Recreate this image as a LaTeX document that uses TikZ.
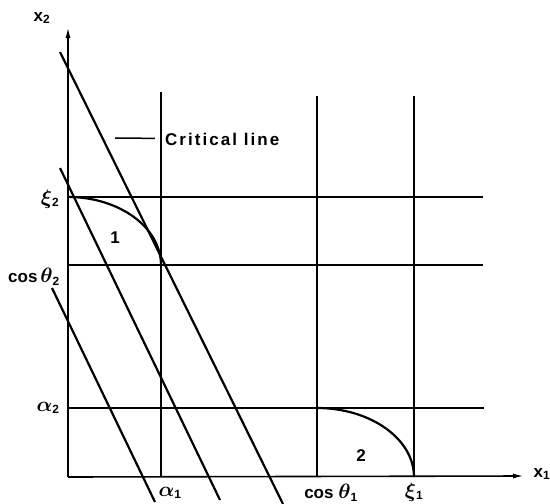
\documentclass[tikz,border=0pt]{standalone}
\usepackage{fontspec}
\usepackage{amsmath}
\usepackage{bm}
\setmainfont{Liberation Sans}
\usetikzlibrary{arrows.meta}
\newcommand{\gk}[1]{{\fontsize{22}{24}\selectfont$\bm{#1}$}}
\begin{document}
\begin{tikzpicture}[x=1pt,y=-1pt,
  gridline/.style={line width=1.3pt},
  diag/.style={line width=2.2pt},
  curveline/.style={line width=2.2pt},
  axisline/.style={line width=1.6pt,-{Latex[length=11pt,width=5pt]}},
  lab/.style={font=\fontsize{17}{19}\selectfont\bfseries, inner sep=0pt}]
\useasboundingbox (0,0) rectangle (550,504);
% axes
\coordinate (O) at (68,477);
\coordinate (Ytip) at (68,27);
\coordinate (Xtip) at (524,476);
\draw[axisline] (O) -- (Ytip);
\draw[axisline] (O) -- (Xtip);
% horizontal lines
\coordinate (xiTwoL) at (68,197);   \coordinate (xiTwoR) at (483,197);
\coordinate (cosTwoL) at (68,265);  \coordinate (cosTwoR) at (483,265);
\coordinate (alTwoL) at (68,408);   \coordinate (alTwoR) at (484,408);
\draw[gridline] (xiTwoL) -- (xiTwoR);
\draw[gridline] (cosTwoL) -- (cosTwoR);
\draw[gridline] (alTwoL) -- (alTwoR);
% vertical lines
\coordinate (alOneT) at (161,92);   \coordinate (alOneB) at (161,477);
\coordinate (cosOneT) at (317,96);  \coordinate (cosOneB) at (317,477);
\coordinate (xiOneT) at (414,96);   \coordinate (xiOneB) at (414,477);
\draw[gridline] (alOneT) -- (alOneB);
\draw[gridline] (cosOneT) -- (cosOneB);
\draw[gridline] (xiOneT) -- (xiOneB);
% curves
\draw[curveline] (xiTwoL) arc[start angle=-90, end angle=0, x radius=93, y radius=68];
\draw[curveline] (317,408) arc[start angle=-90, end angle=0, x radius=97, y radius=69];
% diagonal lines
\coordinate (dAt) at (60,52);   \coordinate (dAb) at (283,504);
\coordinate (dBt) at (60,168);  \coordinate (dBb) at (220,500);
\coordinate (dCt) at (52,288);  \coordinate (dCb) at (155,502);
\draw[diag] (dAt) -- (dAb);
\draw[diag] (dBt) -- (dBb);
\draw[diag] (dCt) -- (dCb);
% legend
\coordinate (legA) at (115,138);
\node[lab, anchor=west, inner xsep=10pt] (crit) at (155,139) {\addfontfeatures{LetterSpace=12}Critical line};
\draw[line width=1.5pt] (legA) -- (crit);
% labels
\node[lab] (lxTwo) at (42,18) {x\textsubscript{2}};
\node[lab] (lxOne) at (542,474) {x\textsubscript{1}};
\node[lab] (lxiTwo) at (50,199) {\gk{\xi}\textsubscript{2}};
\node[lab] (lcosTwo) at (34,277) {cos\,\gk{\theta}\textsubscript{2}};
\node[lab] (lalTwo) at (48,408) {\gk{\alpha}\textsubscript{2}};
\node[lab] (lalOne) at (170,493) {\gk{\alpha}\textsubscript{1}};
\node[lab] (lcosOne) at (331,493) {cos \gk{\theta}\textsubscript{1}};
\node[lab] (lxiOne) at (414,492) {\gk{\xi}\textsubscript{1}};
\node[lab] (rOne) at (115,238) {1};
\node[lab] (rTwo) at (361,456) {2};
\end{tikzpicture}
\end{document}
